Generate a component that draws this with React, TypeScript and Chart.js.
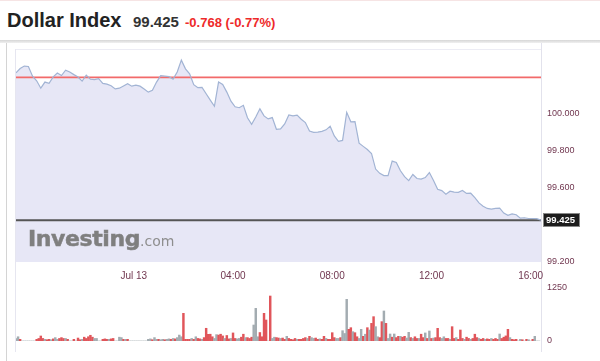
import React, { useEffect, useRef } from 'react';
import { Chart, registerables } from 'chart.js';

Chart.register(...registerables);

// ---- data ----
const title = 'Dollar Index';
const lastPrice = 99.425;
const change = -0.768;
const changePct = -0.77;
const prevClose = 100.193;

// time in hours relative to Jul 13 00:00
const startHour = -4.75; // Jul 12 19:15
const endHour = 16.417; // Jul 13 16:25
const priceStepMin = 10;
const volumeStepMin = 5;

const prices = [
  100.218, 100.241, 100.254, 100.252, 100.2, 100.175, 100.135, 100.168, 100.161, 100.196,
  100.217, 100.203, 100.232, 100.222, 100.208, 100.195, 100.173, 100.205, 100.184, 100.181,
  100.186, 100.161, 100.157, 100.148, 100.131, 100.135, 100.147, 100.159, 100.146, 100.151,
  100.146, 100.131, 100.114, 100.124, 100.168, 100.202, 100.2, 100.197, 100.184, 100.222,
  100.286, 100.239, 100.212, 100.154, 100.138, 100.139, 100.105, 100.071, 100.038, 100.168,
  100.155, 100.114, 100.065, 100.035, 100.03, 100.043, 99.976, 99.941, 99.98, 100.024,
  99.986, 99.97, 99.977, 99.914, 99.916, 99.943, 99.991, 99.986, 99.99, 99.968,
  99.95, 99.905, 99.897, 99.899, 99.903, 99.911, 99.93, 99.878, 99.849, 99.854,
  100.005, 99.954, 99.955, 99.839, 99.822, 99.805, 99.784, 99.7, 99.677, 99.665,
  99.665, 99.743, 99.735, 99.691, 99.659, 99.638, 99.671, 99.649, 99.646, 99.654,
  99.681, 99.638, 99.591, 99.584, 99.565, 99.581, 99.576, 99.575, 99.585, 99.569,
  99.57, 99.546, 99.518, 99.5, 99.488, 99.485, 99.488, 99.49, 99.463, 99.451,
  99.459, 99.454, 99.436, 99.438, 99.434, 99.434, 99.433, 99.425,
];

const volumes = [
  60, 100, 40, 0, 0, 0, 0, 0, 0, 0,
  40, 60, 118, 60, 40, 30, 40, 30,
  50, 80, 40, 60, 80, 60, 60, 40, 0,
  0, 40,
  0, 70, 30, 40, 90, 60, 100, 135, 90, 60, 60, 0,
  0, 40, 50, 40, 40, 50, 60, 0, 0,
  90, 80, 40, 40, 40, 0, 0,
  0, 0, 0, 0, 0, 0, 0,
  40, 50, 30, 80, 40, 40, 30, 40, 30, 40, 50, 40, 60, 50, 80, 140, 100,
  653,
  40, 40, 40, 60, 40, 100, 60,
  50, 40, 80,
  300,
  158, 160, 100, 60, 150, 140, 160,
  120, 60, 130, 50, 60, 190, 60, 50, 60, 90,
  160, 80, 80, 60, 90, 377, 770, 100, 200, 100,
  653, 495, 0, 1061, 60, 90, 80, 70, 60, 70,
  40, 110, 60, 40, 30, 60, 40, 40, 40, 60,
  80, 60, 110, 80, 60, 70, 40, 50, 40, 110,
  60, 40, 40, 196, 80, 60, 60, 80, 243, 177,
  983, 275, 314, 220, 196, 100, 60, 275, 110, 160,
  314, 259, 416, 574, 338, 100, 80, 456, 708, 416,
  60, 165, 90, 165, 80, 110, 110, 90, 110, 70,
  204, 80, 60, 100, 60, 60, 160, 80, 190, 60,
  236, 60, 70, 80, 299, 80, 60, 100, 60, 60,
  40, 338, 60, 80, 40, 259, 60, 40, 90, 60,
  40, 60, 160, 80, 60, 40, 60, 40, 50, 40,
  60, 40, 60, 40, 165, 60, 90, 120, 275, 80,
  40, 30, 40, 0, 40, 30, 0, 40, 30, 0,
  40, 110, 0, 0,
];

// u = period closed up, d = period closed down
const volumeDirs = [
  'uudu', 'uuuuuu', 'dddduddu', 'duudddudu', 'ud', 'udduddddduuu', 'udddudduu',
  'uududuu', 'uuuuuuu', 'uuduuduuduududuuu', 'd', 'dddudud', 'dud', 'd', 'ddduudd',
  'duddudduud', 'duddduuudd', 'dduduuddud', 'dudddduddd', 'duduuddudd', 'udddduuduu',
  'uddudduudu', 'dudduuddud', 'uududduddu', 'ududduddud', 'ududdduudd', 'uddudddudd',
  'uddduddudd', 'uddduddddu', 'ddduududuu', 'duuu',
].join('').split('');

const timeTicks = [0, 4, 8, 12, 16];
const timeTickLabels = ['Jul 13', '04:00', '08:00', '12:00', '16:00'];
const priceTicks = [99.2, 99.6, 99.8, 100.0];
const priceMin = 99.2;
const priceMax = 100.3405;
const volumeTicks = [0, 1250];
const volumeMax = 1250;

// ---- styles ----
const FONT = 'Arial, "Liberation Sans", Helvetica, sans-serif';
const LABEL_COLOR = '#70364f';
const W = 600;
const H = 361;

const lastBoxPlugin = {
  id: 'lastBox',
  afterDraw(chart: any) {
    const ctx: CanvasRenderingContext2D = chart.ctx;
    const a = chart.chartArea;
    const yLast = Math.round(chart.scales.y.getPixelForValue(lastPrice));
    ctx.save();
    ctx.fillStyle = '#1c1c1c';
    ctx.fillRect(a.right + 2, yLast - 7, 37, 14);
    ctx.strokeStyle = '#888';
    ctx.lineWidth = 1;
    ctx.strokeRect(a.right + 2.5, yLast - 6.5, 36, 13);
    ctx.fillStyle = '#ffffff';
    ctx.font = `bold 9.5px ${FONT}`;
    ctx.textBaseline = 'middle';
    ctx.textAlign = 'left';
    ctx.fillText(lastPrice.toFixed(3), a.right + 5, yLast + 0.5);
    ctx.restore();
  },
};

export default function App() {
  const priceRef = useRef<HTMLCanvasElement>(null);
  const volRef = useRef<HTMLCanvasElement>(null);

  useEffect(() => {
    const priceData = prices.map((p, i) => ({ x: startHour + (i * priceStepMin) / 60, y: p }));
    const volData = volumes.map((v, i) => ({ x: startHour + (i * volumeStepMin) / 60, y: v }));
    const volColors = volumes.map((_, i) => (volumeDirs[i] === 'd' ? '#e0555a' : '#a3acb1'));

    const priceChart = new Chart(priceRef.current!, {
      type: 'line',
      data: {
        datasets: [
          {
            data: [
              { x: startHour, y: prevClose },
              { x: endHour, y: prevClose },
            ],
            borderColor: '#f26a6a',
            borderWidth: 1.6,
            fill: false,
            pointRadius: 0,
            order: 3,
          },
          {
            data: [
              { x: startHour, y: lastPrice },
              { x: endHour, y: lastPrice },
            ],
            borderColor: '#555555',
            borderWidth: 2,
            fill: false,
            pointRadius: 0,
            order: 2,
          },
          {
            data: priceData,
            borderColor: '#a2b4d4',
            borderWidth: 1.2,
            backgroundColor: '#e7e7f6',
            fill: 'start',
            pointRadius: 0,
            tension: 0,
            order: 1,
          },
        ],
      },
      options: {
        responsive: false,
        animation: false,
        devicePixelRatio: 1,
        layout: { padding: { left: 16, top: 50, bottom: 99, right: 0 } },
        plugins: {
          legend: { display: false },
          tooltip: { enabled: false },
          filler: { drawTime: 'beforeDatasetsDraw' },
        },
        scales: {
          x: { type: 'linear', min: startHour, max: endHour, display: false },
          y: {
            position: 'right',
            min: priceMin,
            max: priceMax,
            grid: { display: false, drawTicks: false },
            border: { display: false },
            afterFit: (s: any) => {
              s.width = 59;
            },
            afterBuildTicks: (s: any) => {
              s.ticks = priceTicks.map((v) => ({ value: v }));
            },
            ticks: {
              padding: 6,
              color: LABEL_COLOR,
              font: { family: FONT, size: 9 },
              callback: (v: any) => Number(v).toFixed(3),
            },
          },
        },
      },
      plugins: [lastBoxPlugin],
    } as any);

    const volChart = new Chart(volRef.current!, {
      type: 'bar',
      data: {
        datasets: [
          {
            data: volData,
            backgroundColor: volColors,
            barThickness: 1.8,
            borderWidth: 0,
          },
        ],
      },
      options: {
        responsive: false,
        animation: false,
        devicePixelRatio: 1,
        layout: { padding: { left: 16, top: 264, bottom: 20, right: 0 } },
        plugins: { legend: { display: false }, tooltip: { enabled: false } },
        scales: {
          x: {
            type: 'linear',
            position: 'top',
            min: startHour,
            max: endHour,
            offset: false,
            grid: { display: false, drawTicks: false },
            border: { display: false },
            afterFit: (s: any) => {
              s.height = 24;
            },
            afterBuildTicks: (s: any) => {
              s.ticks = timeTicks.map((v) => ({ value: v }));
            },
            ticks: {
              padding: 6,
              autoSkip: false,
              maxRotation: 0,
              color: LABEL_COLOR,
              font: { family: FONT, size: 10 },
              callback: (v: any) => {
                const k = timeTicks.indexOf(Number(v));
                return k >= 0 ? timeTickLabels[k] : '';
              },
            },
          },
          y: {
            position: 'right',
            min: 0,
            max: volumeMax,
            grid: { display: false, drawTicks: false },
            border: { display: false },
            afterFit: (s: any) => {
              s.width = 59;
            },
            afterBuildTicks: (s: any) => {
              s.ticks = volumeTicks.map((v) => ({ value: v }));
            },
            ticks: {
              padding: 6,
              color: LABEL_COLOR,
              font: { family: FONT, size: 9 },
              callback: (v: any) => String(v),
            },
          },
        },
      },
    } as any);

    return () => {
      priceChart.destroy();
      volChart.destroy();
    };
  }, []);

  const abs = (s: React.CSSProperties): React.CSSProperties => ({ position: 'absolute', ...s });

  return (
    <div style={abs({ left: 0, top: 0, width: W, height: H, background: '#fff', overflow: 'hidden', fontFamily: FONT })}>
      <div style={abs({ left: 0, top: 0, width: W, height: 1, background: '#f6e4e4' })} />
      <div style={abs({ left: 7, top: 10, fontSize: 20, lineHeight: '20px', fontWeight: 'bold', color: '#222', whiteSpace: 'nowrap' })}>
        {title}
      </div>
      <div style={abs({ left: 133, top: 14, fontSize: 15, lineHeight: '15px', fontWeight: 'bold', color: '#333', whiteSpace: 'nowrap' })}>
        {lastPrice.toFixed(3)}
      </div>
      <div style={abs({ left: 185, top: 15.7, fontSize: 13, lineHeight: '13px', fontWeight: 'bold', color: '#ee2a2a', whiteSpace: 'nowrap' })}>
        {`${change.toFixed(3)} (${changePct.toFixed(2)}%)`}
      </div>

      {/* panel frame */}
      <div style={abs({ left: 0, top: 40, width: W, height: 3, background: 'linear-gradient(#d6d6d6, #f0f0f0)' })} />
      <div style={abs({ left: 6, top: 43, width: 1, height: H - 43, background: '#d4d4d4' })} />
      <div style={abs({ left: 15, top: 49, width: 526, height: 1, background: '#ececf4' })} />
      <div style={abs({ left: 15, top: 49, width: 1, height: 303, background: '#e6e6f0' })} />
      <div style={abs({ left: 541, top: 43, width: 1, height: 309, background: '#e2e2ec' })} />

      <canvas ref={priceRef} width={W} height={H} style={abs({ left: 0, top: 0, width: W, height: H })} />
      <canvas ref={volRef} width={W} height={H} style={abs({ left: 0, top: 0, width: W, height: H })} />

      {/* watermark */}
      <div style={abs({ left: 28, top: 228, fontFamily: '"DejaVu Sans", sans-serif', fontSize: 22, lineHeight: '22px', whiteSpace: 'nowrap' })}>
        <span style={{ fontWeight: 'bold', color: '#7f7f7f', letterSpacing: -0.4, WebkitTextStroke: '0.5px #7f7f7f' }}>Investing</span>
        <span style={{ fontSize: 14, color: '#8e8e8e' }}>.com</span>
      </div>
    </div>
  );
}
